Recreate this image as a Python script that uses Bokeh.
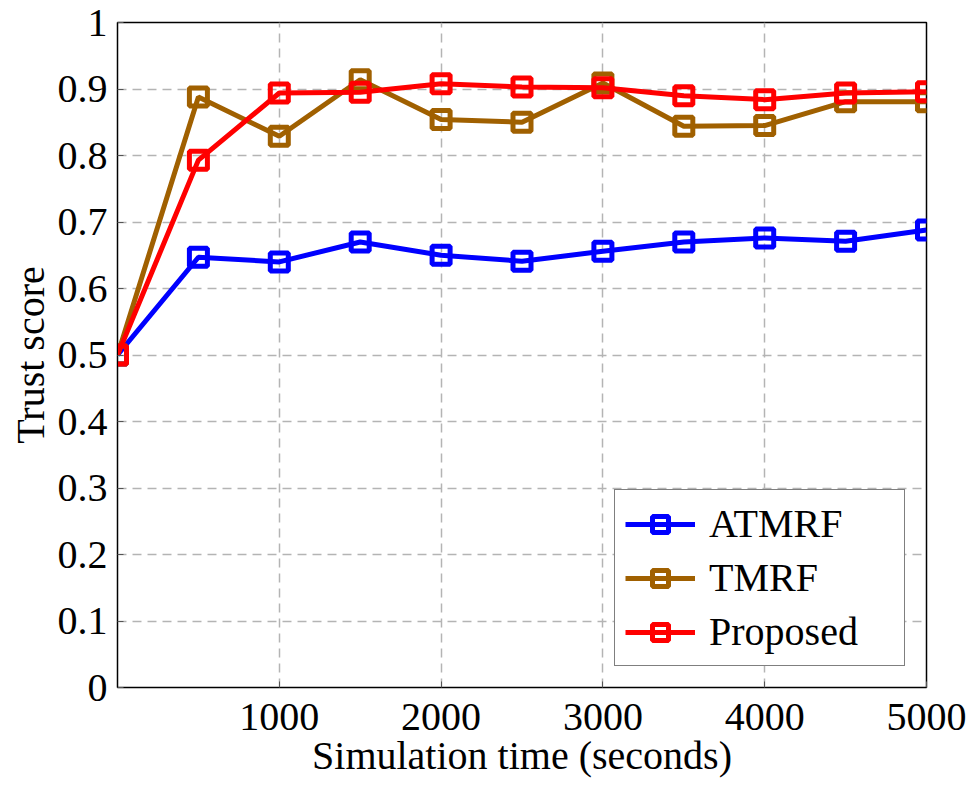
from bokeh.plotting import figure
from bokeh.models import Range1d, FixedTicker, Legend, LegendItem
from bokeh.embed import file_html
from bokeh.resources import INLINE

time_s = [0, 500, 1000, 1500, 2000, 2500, 3000, 3500, 4000, 4500, 5000]
atmrf = [0.5, 0.647, 0.640, 0.670, 0.650, 0.641, 0.656, 0.670, 0.676, 0.671, 0.688]
tmrf = [0.5, 0.888, 0.829, 0.914, 0.854, 0.850, 0.909, 0.844, 0.845, 0.881, 0.881]
proposed = [0.5, 0.793, 0.894, 0.895, 0.908, 0.903, 0.902, 0.890, 0.884, 0.894, 0.896]
x_ticks = [1000, 2000, 3000, 4000, 5000]
y_ticks = [0, 0.1, 0.2, 0.3, 0.4, 0.5, 0.6, 0.7, 0.8, 0.9, 1.0]

FONT = "Liberation Serif"

p = figure(width=967, height=806, output_backend="svg", toolbar_location=None,
           x_range=Range1d(0, 5000), y_range=Range1d(0, 1),
           min_border_left=117, min_border_right=41, min_border_top=22, min_border_bottom=119)

p.outline_line_color = "black"
p.outline_line_width = 1.5
p.background_fill_color = "white"
p.border_fill_color = "white"

for ax in (p.xaxis[0], p.yaxis[0]):
    ax.major_label_text_font = FONT
    ax.major_label_text_font_size = "40px"
    ax.major_label_text_color = "black"
    ax.axis_label_text_font = FONT
    ax.axis_label_text_font_size = "40px"
    ax.axis_label_text_color = "black"
    ax.axis_label_text_font_style = "normal"
    ax.major_tick_in = 6
    ax.major_tick_out = 0
    ax.minor_tick_line_color = None
    ax.axis_line_color = "black"
    ax.major_tick_line_color = "#555555"

p.xaxis.ticker = FixedTicker(ticks=x_ticks)
p.yaxis.ticker = FixedTicker(ticks=y_ticks)
p.yaxis.major_label_overrides = {0: "0", 1.0: "1"}
p.xaxis.axis_label = "Simulation time (seconds)"
p.yaxis.axis_label = "Trust score"
p.xaxis.major_label_standoff = 16
p.yaxis.major_label_standoff = 10
p.xaxis.axis_label_standoff = 0
p.yaxis.axis_label_standoff = 2

p.xgrid.ticker = FixedTicker(ticks=x_ticks)
p.ygrid.ticker = FixedTicker(ticks=y_ticks)
for g in (p.xgrid[0], p.ygrid[0]):
    g.grid_line_color = "#b4b4b4"
    g.grid_line_width = 1.5
    g.grid_line_dash = "9 6"

series = [("ATMRF", atmrf, "#0000ff"), ("TMRF", tmrf, "#a06000"), ("Proposed", proposed, "#ff0000")]
items = []
for name, vals, col in series:
    l = p.line(time_s, vals, line_color=col, line_width=5)
    s = p.scatter(time_s, vals, marker="square", size=18, fill_color=None,
                  line_color=col, line_width=5)
    items.append(LegendItem(label=name, renderers=[l, s]))

legend = Legend(items=items, location=(497, 21))
legend.label_text_font = FONT
legend.label_text_font_size = "40px"
legend.label_text_color = "black"
legend.glyph_width = 70
legend.glyph_height = 40
legend.label_standoff = 14
legend.label_width = 185
legend.spacing = 7
legend.padding = 10
legend.margin = 0
legend.border_line_color = "black"
legend.border_line_width = 1.5
legend.background_fill_alpha = 1
p.add_layout(legend, "center")

open("out.html", "w").write(file_html(p, INLINE))
